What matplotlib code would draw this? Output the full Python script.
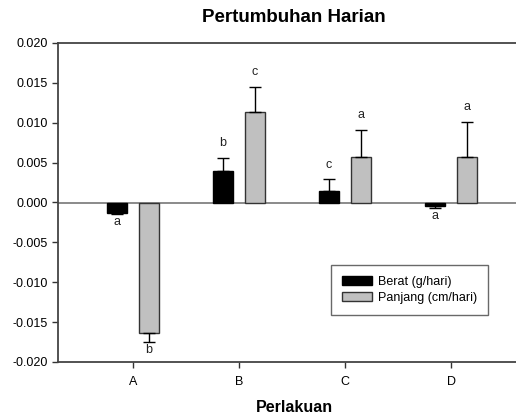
import numpy as np
import matplotlib.pyplot as plt

plt.rcParams['font.family'] = ['Liberation Sans', 'DejaVu Sans']

# data
perlakuan = ['A', 'B', 'C', 'D']
berat = [-0.0013, 0.0040, 0.0014, -0.0005]
berat_err = [0.0002, 0.0016, 0.0015, 0.0002]
panjang = [-0.0164, 0.0114, 0.0057, 0.0057]
panjang_err = [0.0011, 0.0031, 0.0034, 0.0044]
huruf_berat = ['a', 'b', 'c', 'a']
huruf_panjang = ['b', 'c', 'a', 'a']

W, H = 516, 418
fig = plt.figure(figsize=(W / 100, H / 100), dpi=100)
ax = fig.add_axes([58 / W, 1 - 362 / H, (W - 58) / W, (362 - 43) / H])

x = np.arange(len(perlakuan))
width = 0.19
off = 0.15


def one_sided(vals, errs):
    lo = [e if v < 0 else 0 for v, e in zip(vals, errs)]
    hi = [e if v >= 0 else 0 for v, e in zip(vals, errs)]
    return [lo, hi]


ax.bar(x - off, berat, width, color='black', edgecolor='black', lw=1,
       yerr=one_sided(berat, berat_err), capsize=4,
       error_kw=dict(ecolor='black', lw=1, capthick=1),
       label='Berat (g/hari)', zorder=3)
ax.bar(x + off, panjang, width, color='#c0c0c0', edgecolor='#333333', lw=1,
       yerr=one_sided(panjang, panjang_err), capsize=4,
       error_kw=dict(ecolor='black', lw=1, capthick=1),
       label='Panjang (cm/hari)', zorder=3)

# letters
for xs, vals, errs, letters in [(x - off, berat, berat_err, huruf_berat),
                                (x + off, panjang, panjang_err, huruf_panjang)]:
    for xi, v, e, t in zip(xs, vals, errs, letters):
        if v >= 0:
            ax.annotate(t, xy=(xi, v + e), xytext=(0, 10.5), textcoords='offset points',
                        ha='center', va='center', fontsize=9, color='#222222')
        else:
            ax.annotate(t, xy=(xi, v - e), xytext=(0, -5.5), textcoords='offset points',
                        ha='center', va='center', fontsize=9, color='#222222')

ax.axhline(0, color='#777777', lw=1.2, zorder=2)

ax.set_xlim(-(133 - 58) / 106, (W - 133) / 106)
ax.set_ylim(-0.020, 0.020)
ax.set_yticks(np.arange(-0.020, 0.0201, 0.005))
ax.set_yticklabels([f'{v:.3f}' for v in np.arange(-0.020, 0.0201, 0.005)])
ax.set_xticks(x)
ax.set_xticklabels(perlakuan)
ax.tick_params(labelsize=9, length=4, width=1, color='#333333', direction='out')
ax.tick_params(axis='x', pad=6)
ax.spines['right'].set_visible(False)
for s in ['left', 'top', 'bottom']:
    ax.spines[s].set_color('#444444')
    ax.spines[s].set_linewidth(1.3)

leg = ax.legend(loc='upper left', bbox_to_anchor=((331 - 58) / (W - 58), 1 - (265 - 43) / (362 - 43)),
                fontsize=9, frameon=True, fancybox=False, borderpad=0.85, borderaxespad=0,
                handlelength=2.4, handleheight=0.7, labelspacing=0.35, handletextpad=0.5)
leg.get_frame().set_edgecolor('#444444')
leg.get_frame().set_linewidth(1)

fig.text(294 / W, 1 - 18 / H, 'Pertumbuhan Harian', ha='center', va='center',
         fontsize=13.5, fontweight='bold')
fig.text(294 / W, 1 - 408 / H, 'Perlakuan', ha='center', va='center',
         fontsize=11.5, fontweight='bold')

fig.savefig('out.png', dpi=100)
